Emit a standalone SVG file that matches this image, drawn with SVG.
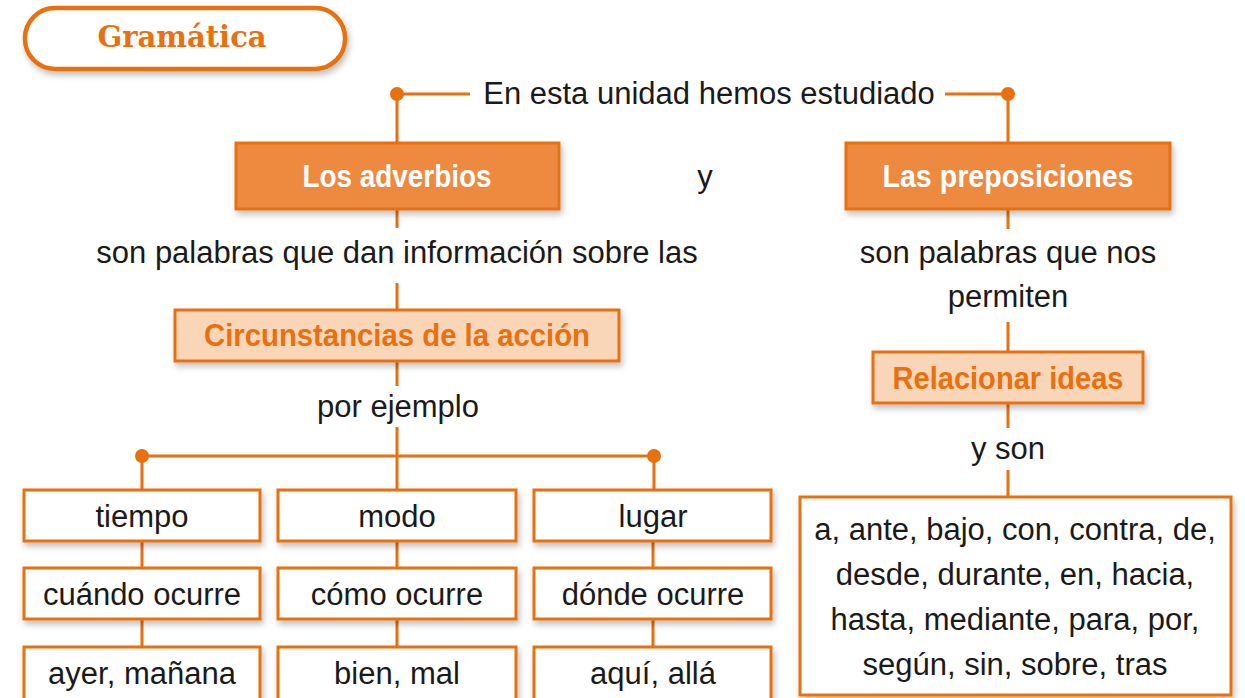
<svg xmlns="http://www.w3.org/2000/svg" width="1245" height="698" viewBox="0 0 1245 698">
<defs>
<filter id="sh" x="-10%" y="-20%" width="120%" height="150%">
<feDropShadow dx="2" dy="4" stdDeviation="3" flood-color="#000" flood-opacity="0.25"/>
</filter>
<style>
.ln{stroke:#E8700F;stroke-width:3;fill:none}
.dot{fill:#E8700F}
.dark{fill:#EE8A3F;stroke:#E8700F;stroke-width:3;filter:url(#sh)}
.light{fill:#FAD6B8;stroke:#E8700F;stroke-width:3;filter:url(#sh)}
.white{fill:#fff;stroke:#E8700F;stroke-width:3;filter:url(#sh)}
.t{font-family:"Liberation Sans",Arial,sans-serif;font-size:31px;fill:#1a1a1a;text-anchor:middle}
.tw{font-family:"Liberation Sans",Arial,sans-serif;font-size:31px;font-weight:bold;fill:#fff;text-anchor:middle}
.to{font-family:"Liberation Sans",Arial,sans-serif;font-size:31px;font-weight:bold;fill:#E8700F;text-anchor:middle}
</style>
</defs>
<rect width="1245" height="698" fill="#fff"/>

<g id="connectors">
<line class="ln" x1="397" y1="94" x2="470" y2="94"/>
<line class="ln" x1="945" y1="94" x2="1008" y2="94"/>
<line class="ln" x1="397" y1="94" x2="397" y2="143"/>
<line class="ln" x1="1008" y1="94" x2="1008" y2="143"/>
<circle class="dot" cx="397" cy="94" r="7"/>
<circle class="dot" cx="1008" cy="94" r="7"/>
<line class="ln" x1="397" y1="209" x2="397" y2="228"/>
<line class="ln" x1="397" y1="283" x2="397" y2="310"/>
<line class="ln" x1="397" y1="361" x2="397" y2="386"/>
<line class="ln" x1="397" y1="427" x2="397" y2="490"/>
<line class="ln" x1="142" y1="456" x2="654" y2="456"/>
<line class="ln" x1="142" y1="456" x2="142" y2="490"/>
<line class="ln" x1="654" y1="456" x2="654" y2="490"/>
<circle class="dot" cx="142" cy="456" r="7"/>
<circle class="dot" cx="654" cy="456" r="7"/>
<line class="ln" x1="142" y1="541" x2="142" y2="568"/>
<line class="ln" x1="142" y1="619" x2="142" y2="647"/>
<line class="ln" x1="397" y1="541" x2="397" y2="568"/>
<line class="ln" x1="397" y1="619" x2="397" y2="647"/>
<line class="ln" x1="653" y1="541" x2="653" y2="568"/>
<line class="ln" x1="653" y1="619" x2="653" y2="647"/>
<line class="ln" x1="1008" y1="209" x2="1008" y2="229"/>
<line class="ln" x1="1008" y1="322" x2="1008" y2="352"/>
<line class="ln" x1="1008" y1="403" x2="1008" y2="428"/>
<line class="ln" x1="1008" y1="470" x2="1008" y2="497"/>
</g>

<g id="title">
<rect x="25" y="8" width="320" height="61" rx="30" fill="#fff" stroke="#E8700F" stroke-width="4.5" filter="url(#sh)"/>
<text x="182" y="47" font-family="'DejaVu Serif','Liberation Serif',serif" font-size="29" font-weight="bold" fill="#E8700F" text-anchor="middle">Gramática</text>
</g>

<g id="intro"><text class="t" x="709" y="104">En esta unidad hemos estudiado</text></g>

<g id="adverbios">
<rect class="dark" x="236" y="143" width="323" height="66"/>
<text class="tw" x="397" y="187" textLength="189" lengthAdjust="spacingAndGlyphs">Los adverbios</text>
</g>
<g id="y"><text class="t" x="705" y="187">y</text></g>
<g id="preposiciones">
<rect class="dark" x="846" y="143" width="324" height="66"/>
<text class="tw" x="1008" y="187" textLength="251" lengthAdjust="spacingAndGlyphs">Las preposiciones</text>
</g>

<g id="label-adv"><text class="t" x="397" y="263">son palabras que dan información sobre las</text></g>
<g id="circunstancias">
<rect class="light" x="175" y="310" width="444" height="51"/>
<text class="to" x="397" y="346" textLength="386" lengthAdjust="spacingAndGlyphs">Circunstancias de la acción</text>
</g>
<g id="label-ejemplo"><text class="t" x="398" y="417">por ejemplo</text></g>

<g id="tiempo"><rect class="white" x="24" y="490" width="236" height="51"/><text class="t" x="142" y="527">tiempo</text></g>
<g id="modo"><rect class="white" x="278" y="490" width="238" height="51"/><text class="t" x="397" y="527">modo</text></g>
<g id="lugar"><rect class="white" x="534" y="490" width="237" height="51"/><text class="t" x="653" y="527">lugar</text></g>

<g id="cuando"><rect class="white" x="24" y="568" width="236" height="51"/><text class="t" x="142" y="605">cuándo ocurre</text></g>
<g id="como"><rect class="white" x="278" y="568" width="238" height="51"/><text class="t" x="397" y="605">cómo ocurre</text></g>
<g id="donde"><rect class="white" x="534" y="568" width="237" height="51"/><text class="t" x="653" y="605">dónde ocurre</text></g>

<g id="ayer"><rect class="white" x="24" y="647" width="236" height="60"/><text class="t" x="142" y="684">ayer, mañana</text></g>
<g id="bien"><rect class="white" x="278" y="647" width="238" height="60"/><text class="t" x="397" y="684">bien, mal</text></g>
<g id="aqui"><rect class="white" x="534" y="647" width="237" height="60"/><text class="t" x="653" y="684">aquí, allá</text></g>

<g id="label-prep"><text class="t" x="1008" y="263">son palabras que nos</text><text class="t" x="1008" y="307">permiten</text></g>
<g id="relacionar">
<rect class="light" x="873" y="352" width="270" height="51"/>
<text class="to" x="1008" y="389" textLength="231" lengthAdjust="spacingAndGlyphs">Relacionar ideas</text>
</g>
<g id="label-son"><text class="t" x="1008" y="459">y son</text></g>
<g id="lista">
<rect class="white" x="800" y="497" width="431" height="198"/>
<text class="t" x="1015" y="540">a, ante, bajo, con, contra, de,</text>
<text class="t" x="1015" y="585">desde, durante, en, hacia,</text>
<text class="t" x="1015" y="630">hasta, mediante, para, por,</text>
<text class="t" x="1015" y="675">según, sin, sobre, tras</text>
</g>
</svg>
